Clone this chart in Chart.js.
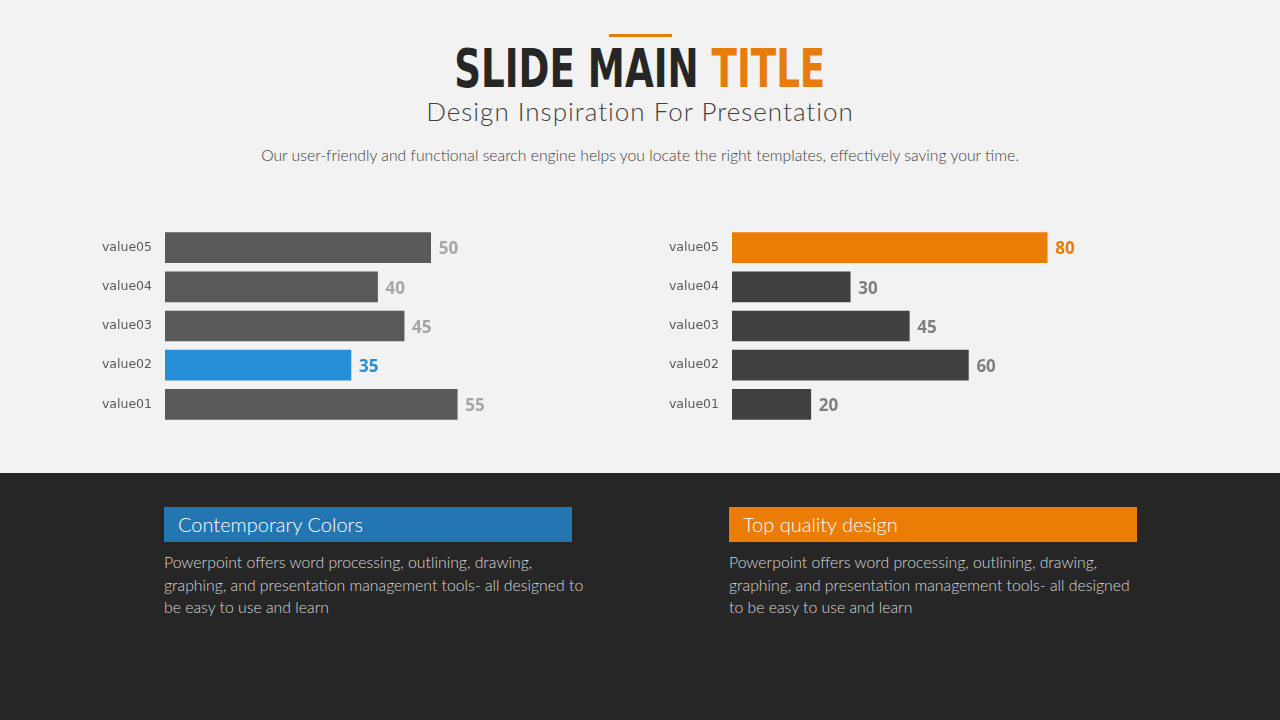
<!DOCTYPE html>
<html>
<head>
<meta charset="utf-8">
<script src="https://cdn.jsdelivr.net/npm/chart.js@4"></script>
<style>
    body { margin: 0; width: 1280px; height: 720px; overflow: hidden; background: #f2f2f2; font-family: Lato, sans-serif; }
    .top { position: absolute; left: 0; top: 0; width: 1280px; height: 473px; background: #f2f2f2; }
    .bottom { position: absolute; left: 0; top: 473px; width: 1280px; height: 247px; background: #262626; }
    .bar-line { position: absolute; left: 609px; top: 34px; width: 63px; height: 3px; background: #e87c0a; }
    .title { position: absolute; left: 0; top: 45px; width: 1280px; height: 48px; text-align: center; }
    .title div { display: inline-block; font-family: "DejaVu Sans Condensed", sans-serif; font-weight: bold; font-size: 53px; line-height: 48px; color: #262626; transform: scaleX(0.78); transform-origin: center; white-space: nowrap; }
    .title span { color: #e87c0a; }
    .subtitle { position: absolute; left: 0; top: 97px; width: 1280px; text-align: center; font-family: Lato, sans-serif; font-weight: 300; font-size: 26px; line-height: 28px; color: #404040; letter-spacing: 1px; }
    .desc { position: absolute; left: 0; top: 145px; width: 1280px; text-align: center; font-family: Lato, sans-serif; font-weight: 300; font-size: 15.75px; color: #404040; }
    .chart { position: absolute; }
    .box { position: absolute; top: 507px; width: 408px; height: 35px; color: #fff; font-family: Lato, sans-serif; font-weight: 300; font-size: 20px; line-height: 34px; box-sizing: border-box; padding-left: 14px; }
    .para { position: absolute; top: 551px; color: #d9d9d9; font-family: Lato, sans-serif; font-weight: 300; font-size: 15.8px; line-height: 22.5px; }
</style>
</head>
<body>
<div class="top"></div>
<div class="bottom"></div>
<div class="bar-line"></div>
<div class="title"><div>SLIDE MAIN <span>TITLE</span></div></div>
<div class="subtitle">Design Inspiration For Presentation</div>
<div class="desc">Our user-friendly and functional search engine helps you locate the right templates, effectively saving your time.</div>

<div class="chart" style="left:90px; top:228px; width:448px; height:196px;"><canvas id="chartLeft"></canvas></div>
<div class="chart" style="left:657px; top:228px; width:469px; height:196px;"><canvas id="chartRight"></canvas></div>

<div class="box" style="left:164px; background:#2476b2;">Contemporary Colors</div>
<div class="para" style="left:164px; width:430px;">Powerpoint offers word processing, outlining, drawing, graphing, and presentation management tools- all designed to be easy to use and learn</div>
<div class="box" style="left:729px; background:#eb7c05;">Top quality design</div>
<div class="para" style="left:729px; width:412px;">Powerpoint offers word processing, outlining, drawing, graphing, and presentation management tools- all designed to be easy to use and learn</div>

<script>
var categories = ['value01', 'value02', 'value03', 'value04', 'value05'];
var leftValues = [55, 35, 45, 40, 50];
var rightValues = [20, 60, 45, 30, 80];

// which bar gets the accent colour
var leftAccent = 1;
var rightAccent = 4;

var valueLabels = {
    id: 'valueLabels',
    afterDatasetsDraw: function (chart, args, opts) {
        var ctx = chart.ctx;
        var meta = chart.getDatasetMeta(0);
        var data = chart.data.datasets[0].data;
        ctx.save();
        ctx.font = 'bold 17px "Open Sans", sans-serif';
        ctx.textBaseline = 'middle';
        ctx.textAlign = 'left';
        meta.data.forEach(function (bar, i) {
            ctx.fillStyle = i === opts.accent ? opts.accentColor : opts.color;
            ctx.fillText(data[i], bar.x + 8, bar.y + 2);
        });
        ctx.restore();
    }
};

function CreateBarChart(element, values, max, accent, barColor, accentColor, labelColor) {
    var colors = values.map(function (v, i) { return i === accent ? accentColor : barColor; });

    var config = {
        type: 'bar',
        data: {
            labels: categories,
            datasets: [{
                data: values,
                backgroundColor: colors,
                barThickness: 30
            }]
        },
        options: {
            indexAxis: 'y',
            responsive: true,
            maintainAspectRatio: false,
            animation: false,
            layout: { padding: 0 },
            plugins: {
                legend: { display: false },
                tooltip: { enabled: false },
                valueLabels: { accent: accent, accentColor: accentColor, color: labelColor }
            },
            scales: {
                x: { display: false, min: 0, max: max },
                y: {
                    reverse: true,
                    grid: { display: false, drawTicks: false },
                    border: { display: false },
                    ticks: {
                        color: '#595959',
                        padding: 13,
                        font: { family: 'DejaVu Sans', size: 12.5 }
                    },
                    afterFit: function (scale) {
                        scale.width = 75;
                        scale.paddingTop = 0;
                        scale.paddingBottom = 0;
                    }
                }
            }
        },
        plugins: [valueLabels]
    };

    var ctx = document.querySelector(element);
    return new Chart(ctx, config);
}

CreateBarChart('#chartLeft', leftValues, 70.2, leftAccent, '#595959', '#268fd8', '#a6a6a6');
CreateBarChart('#chartRight', rightValues, 100, rightAccent, '#404040', '#eb7c05', '#7f7f7f');
</script>
</body>
</html>
